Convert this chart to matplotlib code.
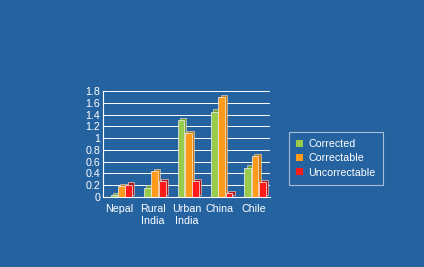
import matplotlib
matplotlib.use("Agg")
import matplotlib.pyplot as plt
import matplotlib.transforms as mtransforms
from matplotlib.patches import Patch
import numpy as np

categories = ["Nepal", "Rural\nIndia", "Urban\nIndia", "China", "Chile"]
corrected = [0.03, 0.16, 1.30, 1.45, 0.50]
correctable = [0.18, 0.44, 1.09, 1.70, 0.69]
uncorrectable = [0.21, 0.27, 0.27, 0.07, 0.25]
series_names = ["Corrected", "Correctable", "Uncorrectable"]
y_ticks = [0, 0.2, 0.4, 0.6, 0.8, 1, 1.2, 1.4, 1.6, 1.8]
y_labels = ["0", "0.2", "0.4", "0.6", "0.8", "1", "1.2", "1.4", "1.6", "1.8"]

bg = "#2563a0"
face_colors = ["#99cc4d", "#ff9a1a", "#ff1a1a"]
side_colors = ["#7a9e3a", "#cf7a10", "#b81818"]

plt.rcParams["font.family"] = ["Liberation Sans", "DejaVu Sans"]
fs = 7.7

fig = plt.figure(figsize=(4.24, 2.67), dpi=100, facecolor=bg)
ax = fig.add_axes([0.243, 0.262, 0.394, 0.397])
ax.set_facecolor(bg)

x = np.arange(len(categories))
width = 0.2
offsets = [-0.17, 0.05, 0.27]
shadow = mtransforms.offset_copy(ax.transData, fig=fig, x=2.2, y=2.2, units="dots")

for vals, off, fc, sc in zip([corrected, correctable, uncorrectable], offsets, face_colors, side_colors):
    ax.bar(x + off, vals, width, color=sc, edgecolor="#e8e8e8", linewidth=0.4,
           transform=shadow, zorder=2)
    ax.bar(x + off, vals, width, color=fc, edgecolor="#f4f4f4", linewidth=0.5, zorder=3)

ax.set_xlim(-0.5, 4.5)
ax.set_ylim(0, 1.8)
ax.set_yticks(y_ticks)
ax.set_yticklabels(y_labels)
ax.set_xticks(x)
ax.set_xticklabels(categories, linespacing=1.25)
ax.tick_params(axis="both", colors="white", labelsize=fs, length=0, pad=2)
ax.tick_params(axis="x", pad=5)

ax.grid(axis="y", color="white", linewidth=0.7, zorder=0)
ax.set_axisbelow(True)
for s in ["top", "right"]:
    ax.spines[s].set_visible(False)
ax.spines["left"].set_color("white")
ax.spines["bottom"].set_color("white")
ax.spines["left"].set_linewidth(0.8)
ax.spines["bottom"].set_linewidth(0.8)

handles = [Patch(facecolor=c, edgecolor="none") for c in face_colors]
leg = fig.legend(handles, series_names, loc="center", bbox_to_anchor=(0.792, 0.407),
                 frameon=True, fontsize=fs, handlelength=0.6, handleheight=0.6,
                 handletextpad=0.5, labelspacing=0.4, borderpad=0.7, fancybox=False)
leg.get_frame().set_facecolor(bg)
leg.get_frame().set_edgecolor("#c8d4e4")
leg.get_frame().set_linewidth(0.8)
for t in leg.get_texts():
    t.set_color("white")

fig.savefig("out.png", dpi=100, facecolor=bg)
